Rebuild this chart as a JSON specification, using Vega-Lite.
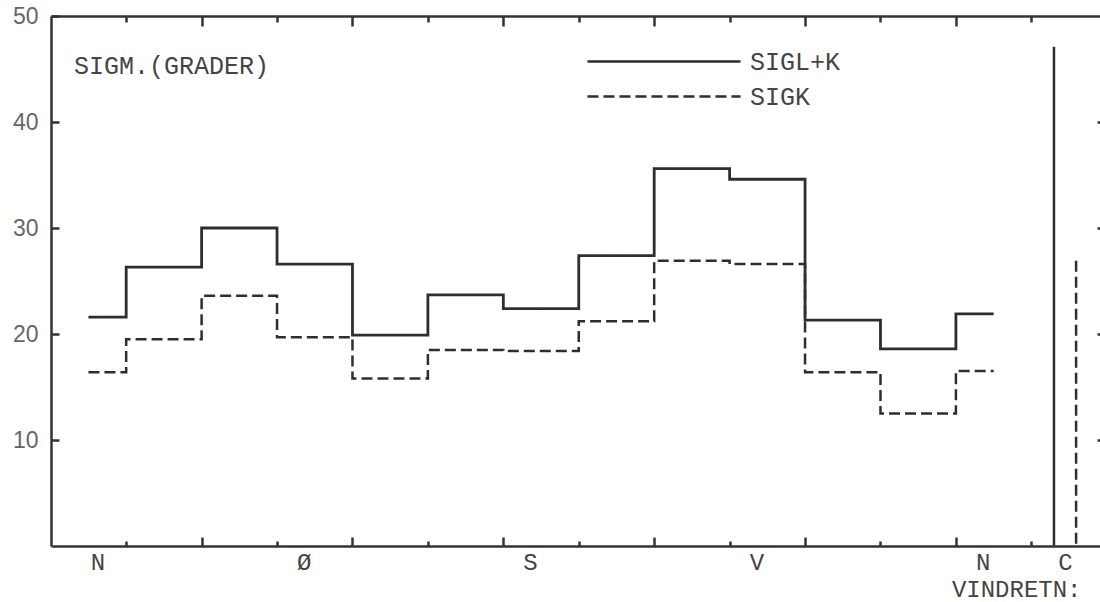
{
  "$schema": "https://vega.github.io/schema/vega-lite/v6.json",
  "width": 1052,
  "height": 530,
  "autosize": {"type": "none"},
  "padding": {"left": 51, "top": 16, "right": 0, "bottom": 56},
  "background": "white",
  "config": {
    "view": {"stroke": null},
    "axis": {"grid": false, "domainColor": "#333", "domainWidth": 2.5, "tickColor": "#333", "tickWidth": 2.5}
  },
  "title": {
    "text": "SIGM.(GRADER)",
    "anchor": "start",
    "frame": "group",
    "orient": "top",
    "offset": 0,
    "dx": 23,
    "dy": 94,
    "baseline": "alphabetic",
    "font": "Liberation Mono",
    "fontSize": 25,
    "fontWeight": "normal",
    "color": "#444"
  },
  "datasets": {
    "steps": [
      {"series": "SIGL+K", "dir": 0, "sigma": 21.6},
      {"series": "SIGL+K", "dir": 30, "sigma": 26.3},
      {"series": "SIGL+K", "dir": 60, "sigma": 30.0},
      {"series": "SIGL+K", "dir": 90, "sigma": 26.6},
      {"series": "SIGL+K", "dir": 120, "sigma": 19.9},
      {"series": "SIGL+K", "dir": 150, "sigma": 23.7},
      {"series": "SIGL+K", "dir": 180, "sigma": 22.4},
      {"series": "SIGL+K", "dir": 210, "sigma": 27.4},
      {"series": "SIGL+K", "dir": 240, "sigma": 35.6},
      {"series": "SIGL+K", "dir": 270, "sigma": 34.6},
      {"series": "SIGL+K", "dir": 300, "sigma": 21.3},
      {"series": "SIGL+K", "dir": 330, "sigma": 18.6},
      {"series": "SIGL+K", "dir": 360, "sigma": 21.9},
      {"series": "SIGK", "dir": 0, "sigma": 16.4},
      {"series": "SIGK", "dir": 30, "sigma": 19.5},
      {"series": "SIGK", "dir": 60, "sigma": 23.6},
      {"series": "SIGK", "dir": 90, "sigma": 19.7},
      {"series": "SIGK", "dir": 120, "sigma": 15.8},
      {"series": "SIGK", "dir": 150, "sigma": 18.5},
      {"series": "SIGK", "dir": 180, "sigma": 18.4},
      {"series": "SIGK", "dir": 210, "sigma": 21.2},
      {"series": "SIGK", "dir": 240, "sigma": 26.9},
      {"series": "SIGK", "dir": 270, "sigma": 26.6},
      {"series": "SIGK", "dir": 300, "sigma": 16.4},
      {"series": "SIGK", "dir": 330, "sigma": 12.5},
      {"series": "SIGK", "dir": 360, "sigma": 16.5}
    ],
    "calm": [
      {"series": "SIGL+K", "dir": 384.0, "sigma": 47.1},
      {"series": "SIGK", "dir": 392.8, "sigma": 26.9}
    ]
  },
  "resolve": {"axis": {"x": "independent", "y": "independent"}},
  "layer": [
    {
      "data": {"name": "steps"},
      "transform": [{"filter": "datum.series == 'SIGL+K'"}],
      "mark": {"type": "line", "interpolate": "step", "color": "#2e2e2e", "strokeWidth": 2.8},
      "encoding": {
        "x": {
          "field": "dir", "type": "quantitative",
          "scale": {"domain": [-14.9, 403.5], "nice": false, "zero": false},
          "axis": {
            "orient": "bottom",
            "values": [0, 90, 180, 270, 360, 388.4],
            "labelExpr": "datum.value == 0 ? 'N' : datum.value == 90 ? 'Ø' : datum.value == 180 ? 'S' : datum.value == 270 ? 'V' : datum.value == 360 ? 'N' : 'C'",
            "ticks": false,
            "domain": true,
            "labelFont": "Liberation Mono",
            "labelFontSize": 24,
            "labelColor": "#444",
            "labelBaseline": "top",
            "labelPadding": 4,
            "labelFlush": false,
            "labelOverlap": false,
            "labelOffset": {"condition": [{"test": "datum.value == 0", "value": 9}, {"test": "datum.value > 380", "value": 0}], "value": -11},
            "title": "VINDRETN:",
            "titleFont": "Liberation Mono",
            "titleFontSize": 24,
            "titleFontWeight": "normal",
            "titleColor": "#444",
            "titleAnchor": null,
            "titleAlign": "right",
            "titleBaseline": "alphabetic",
            "titleX": 1030,
            "titleY": 50
          }
        },
        "y": {
          "field": "sigma", "type": "quantitative",
          "scale": {"domain": [0, 50], "nice": false},
          "axis": {
            "orient": "left",
            "values": [10, 20, 30, 40, 50],
            "tickSize": -8,
            "labelPadding": 21,
            "labelFont": "Liberation Sans",
            "labelFontSize": 23,
            "labelColor": "#666",
            "title": null
          }
        },
        "strokeDash": {
          "field": "series", "type": "nominal",
          "scale": {"domain": ["SIGL+K", "SIGK"], "range": [[1, 0], [11, 5]]},
          "legend": {
            "orient": "none",
            "legendX": 535,
            "legendY": 28,
            "title": null,
            "symbolType": "stroke",
            "symbolSize": 23409,
            "symbolStrokeWidth": 2.5,
            "symbolStrokeColor": "#333",
            "clipHeight": 35,
            "rowPadding": 0,
            "padding": 0,
            "labelFont": "Liberation Mono",
            "labelFontSize": 25,
            "labelColor": "#444",
            "labelOffset": 8
          }
        }
      }
    },
    {
      "data": {"name": "steps"},
      "transform": [{"filter": "datum.series == 'SIGK'"}],
      "mark": {"type": "line", "interpolate": "step", "color": "#2e2e2e", "strokeWidth": 2.5},
      "encoding": {
        "x": {
          "field": "dir", "type": "quantitative",
          "axis": {
            "orient": "top",
            "values": [15, 45, 75, 105, 135, 165, 195, 225, 255, 285, 315, 345, 375],
            "labels": false,
            "domain": true,
            "tickSize": {"condition": {"test": "(datum.value - 45) % 60 == 0", "value": -10}, "value": -6},
            "title": null
          }
        },
        "y": {"field": "sigma", "type": "quantitative", "axis": null},
        "strokeDash": {"field": "series", "type": "nominal"}
      }
    },
    {
      "data": {"name": "calm"},
      "mark": {"type": "rule", "color": "#2e2e2e", "strokeWidth": 2.5},
      "encoding": {
        "x": {
          "field": "dir", "type": "quantitative",
          "axis": {
            "orient": "bottom",
            "values": [15, 45, 75, 105, 135, 165, 195, 225, 255, 285, 315, 345, 375],
            "labels": false,
            "domain": false,
            "tickSize": {"condition": {"test": "(datum.value - 45) % 60 == 0", "value": -9}, "value": -5},
            "title": null
          }
        },
        "y": {
          "field": "sigma", "type": "quantitative",
          "axis": {
            "orient": "right",
            "values": [10, 20, 30, 40],
            "labels": false,
            "tickSize": -6,
            "title": null
          }
        },
        "y2": {"datum": 0},
        "strokeDash": {"field": "series", "type": "nominal"}
      }
    }
  ]
}
